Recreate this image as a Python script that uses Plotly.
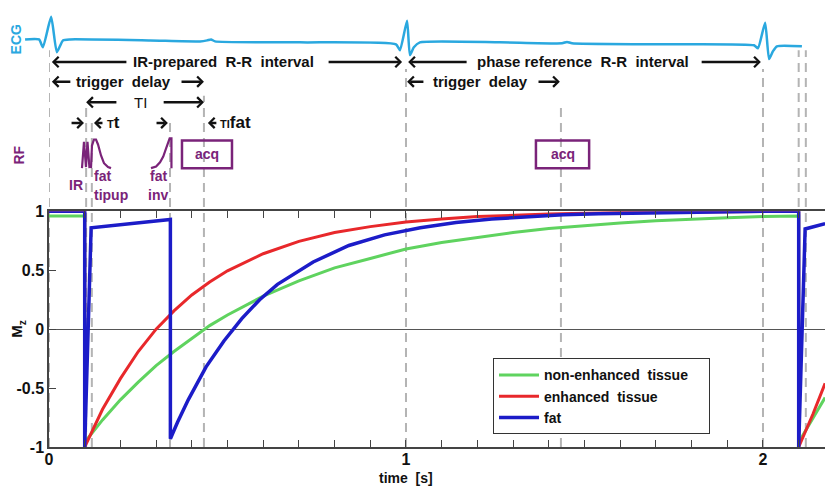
import plotly.graph_objects as go

# ---------------- data ----------------
# longitudinal magnetisation Mz vs time [s]
t_green = [0, 0.1, 0.1, 0.12, 0.15, 0.2, 0.25, 0.3, 0.35, 0.4, 0.45, 0.5, 0.6, 0.7, 0.8, 0.9,
           1.0, 1.1, 1.2, 1.3, 1.4, 1.5, 1.6, 1.7, 1.8, 1.9, 2.0, 2.1, 2.1, 2.14, 2.174]
mz_green = [0.96, 0.96, -0.96, -0.88, -0.77, -0.60, -0.45, -0.31, -0.19, -0.08, 0.03, 0.12, 0.28,
            0.41, 0.52, 0.60, 0.68, 0.735, 0.78, 0.82, 0.855, 0.88, 0.90, 0.92, 0.935, 0.945,
            0.955, 0.96, -0.96, -0.76, -0.58]

t_red = [0, 0.1, 0.1, 0.12, 0.15, 0.2, 0.25, 0.3, 0.35, 0.4, 0.45, 0.5, 0.6, 0.7, 0.8, 0.9,
         1.0, 1.1, 1.2, 1.4, 1.6, 1.8, 2.0, 2.1, 2.1, 2.14, 2.174]
mz_red = [1.0, 1.0, -1.0, -0.87, -0.68, -0.42, -0.19, 0.0, 0.155, 0.29, 0.40, 0.495, 0.64, 0.745,
          0.82, 0.87, 0.91, 0.935, 0.955, 0.977, 0.99, 0.995, 1.0, 1.0, -1.0, -0.72, -0.46]

t_blue = [0, 0.1, 0.1, 0.118, 0.34, 0.34, 0.36, 0.39, 0.44, 0.49, 0.54, 0.59, 0.64, 0.74, 0.84,
          0.94, 1.04, 1.14, 1.24, 1.34, 1.44, 1.54, 1.74, 2.0, 2.1, 2.1, 2.118, 2.174]
mz_blue = [1.0, 1.0, -1.0, 0.86, 0.93, -0.93, -0.79, -0.60, -0.32, -0.10, 0.09, 0.25, 0.38, 0.57,
           0.71, 0.80, 0.86, 0.905, 0.935, 0.955, 0.97, 0.98, 0.99, 1.0, 1.0, -1.0, 0.85, 0.895]

series_names = ["non-enhanced\u00a0 tissue\u00a0\u00a0\u00a0\u00a0", "enhanced\u00a0 tissue", "fat"]

# ECG trace (time [s], arbitrary amplitude)
t_ecg = [-0.067, -0.028, -0.017, 0.006, 0.022, 0.039, 0.059, 0.283, 0.423, 0.443, 0.454, 0.465,
         0.703, 0.972, 0.983, 1.003, 1.011, 1.022, 1.039, 1.263, 1.437, 1.451, 1.465, 1.683,
         1.975, 1.986, 2.006, 2.017, 2.028, 2.039, 2.109]
v_ecg = [0.08, 0.08, -0.24, 1.0, -0.44, 0.04, 0.08, 0.04, 0.0, 0.04, 0.08, 0.0,
         -0.04, -0.12, -0.36, 0.84, -0.56, -0.24, -0.04, -0.04, -0.08, -0.02, -0.08, -0.12,
         -0.16, -0.28, 0.76, -0.72, -0.40, -0.20, -0.20]

# RF pulses (time [s], relative amplitude)
t_rf_ir = [0.0924, 0.098, 0.1036, 0.1078, 0.1134]
v_rf_ir = [0, 0.96, 0.04, 0.96, 0]
t_rf_tipup = [0.1176, 0.1204, 0.126, 0.1317, 0.1373, 0.1457, 0.154, 0.1653, 0.1737]
v_rf_tipup = [0, 0.82, 1.04, 1.04, 0.86, 0.46, 0.18, 0.04, 0]
t_rf_inv = [0.2857, 0.300, 0.311, 0.320, 0.327, 0.333, 0.338, 0.343, 0.343]
v_rf_inv = [0, 0.06, 0.21, 0.42, 0.68, 0.93, 1.08, 1.08, 0]

# acquisition windows (start, end) [s]
acq_windows = [(0.3725, 0.5126), (1.364, 1.513)]

# timing events (dashed markers) [s] and the paper height where each starts
event_times = [0.0, 0.104, 0.12, 0.339, 0.434, 1.0, 1.434, 2.0, 2.1, 2.12]
event_tops = [0.904, 0.776, 0.747, 0.747, 0.800, 0.861, 0.779, 0.861, 0.904, 0.904]

y_tick_vals = [-1, -0.5, 0, 0.5, 1]
y_tick_text = ["-1", "-0.5", "0", "0.5", "1"]
x_tick_vals = [round(i * 0.1, 1) for i in range(22)]
x_tick_text = [str(int(v)) if abs(v - round(v)) < 1e-9 else "" for v in x_tick_vals]

# ---------------- styling ----------------
FONT = "Liberation Sans, Arial, sans-serif"
GREEN = "#5fd35f"
RED = "#e8282b"
BLUE = "#1c1cc8"
CYAN = "#2aa8df"
PURPLE = "#7a2379"
AX = "#444444"
DASH = "#b4b4b4"

fig = go.Figure()

fig.add_trace(go.Scatter(x=t_green, y=mz_green, mode="lines", name=series_names[0],
                         line=dict(color=GREEN, width=3)))
fig.add_trace(go.Scatter(x=t_red, y=mz_red, mode="lines", name=series_names[1],
                         line=dict(color=RED, width=3)))
fig.add_trace(go.Scatter(x=t_blue, y=mz_blue, mode="lines", name=series_names[2],
                         line=dict(color=BLUE, width=3.5)))

fig.add_trace(go.Scatter(x=t_ecg, y=v_ecg, mode="lines", xaxis="x2", yaxis="y2",
                         line=dict(color=CYAN, width=2.5, shape="spline", smoothing=0.5),
                         showlegend=False, hoverinfo="skip"))
for tx, vy in [(t_rf_ir, v_rf_ir), (t_rf_tipup, v_rf_tipup), (t_rf_inv, v_rf_inv)]:
    fig.add_trace(go.Scatter(x=tx, y=vy, mode="lines", xaxis="x2", yaxis="y3",
                             line=dict(color=PURPLE, width=2.2), showlegend=False,
                             hoverinfo="skip"))

shapes = []
for tt, top in zip(event_times, event_tops):
    shapes.append(dict(type="line", xref="x", yref="paper", x0=tt, x1=tt, y0=0, y1=top,
                       line=dict(color=DASH, width=2, dash="9px,6px"), layer="below"))
for a0, a1 in acq_windows:
    shapes.append(dict(type="rect", xref="x2", yref="y3", x0=a0, x1=a1, y0=0, y1=1,
                       line=dict(color=PURPLE, width=2.5)))

ann = []


def arrow(head, tail, y):
    ann.append(dict(x=head, y=y, xref="x", yref="paper", ax=tail, ay=0, axref="x",
                    ayref="pixel", text="", showarrow=True, arrowhead=4, arrowsize=0.8,
                    arrowwidth=2.5, arrowcolor="#111111", standoff=0, startstandoff=0))


def label(x, y, text, size=15, color="#111111", xref="x", xanchor="center", weight="bold",
          angle=0):
    ann.append(dict(x=x, y=y, xref=xref, yref="paper", text=text, showarrow=False,
                    xanchor=xanchor, yanchor="middle", textangle=angle,
                    font=dict(family=FONT, size=size, color=color, weight=weight)))


R1, R2, R3, R4 = 0.877, 0.8322, 0.7852, 0.7383
# row 1
arrow(0.008, 0.221, R1); arrow(0.989, 0.779, R1)
label(0.49, R1, "IR-prepared\u00a0 R-R\u00a0 interval")
arrow(1.006, 1.174, R1); arrow(1.994, 1.824, R1)
label(1.496, R1, "phase reference\u00a0 R-R\u00a0 interval")
# row 2
arrow(0.008, 0.064, R2); arrow(0.434, 0.367, R2)
label(0.21, R2, "trigger\u00a0 delay")
arrow(1.003, 1.053, R2); arrow(1.431, 1.367, R2)
label(1.21, R2, "trigger\u00a0 delay")
# row 3
arrow(0.104, 0.193, R3); arrow(0.434, 0.317, R3)
label(0.255, R3, "TI", size=15, weight="normal")
# row 4
arrow(0.098, 0.059, R4)
arrow(0.126, 0.154, R4)
label(0.156, R4, '<span style="font-size:11px">T</span>t', size=17, xanchor="left")
arrow(0.333, 0.297, R4)
arrow(0.445, 0.473, R4)
label(0.472, R4, '<span style="font-size:11px">TI</span>fat', size=17, xanchor="left")

# RF labels
label(0.0756, 0.5973, "IR", size=14, color=PURPLE)
label(0.1204, 0.6174, "fat", size=14, color=PURPLE, xanchor="left")
label(0.1204, 0.5749, "tipup", size=14, color=PURPLE, xanchor="left")
label(0.308, 0.6174, "fat", size=14, color=PURPLE)
label(0.3053, 0.5749, "inv", size=14, color=PURPLE)
for a0, a1 in acq_windows:
    label((a0 + a1) / 2, 0.6667, "acq", size=14, color=PURPLE)

label(-0.005, 0.9284, "ECG", size=14, color=CYAN, xref="paper", angle=-90)
label(-0.001, 0.6644, "RF", size=14, color=PURPLE, xref="paper", angle=-90)
label(-0.003, 0.2685, "M<sub>z</sub>", size=15, xref="paper", angle=-90)
label(1.0, -0.0705, "time\u00a0 [s]", size=14)

fig.update_layout(
    width=825, height=486, autosize=False,
    margin=dict(l=20, r=0, t=0, b=39),
    paper_bgcolor="white", plot_bgcolor="rgba(0,0,0,0)",
    font=dict(family=FONT, color="#111111"),
    shapes=shapes, annotations=ann,
    showlegend=True,
    legend=dict(x=0.5876, y=0.1152, xanchor="left", yanchor="middle",
                bgcolor="white", bordercolor="#333333", borderwidth=1,
                font=dict(family=FONT, size=14, color="#111111", weight="bold"),
                tracegroupgap=0, itemwidth=40),
    xaxis=dict(domain=[0.036025, 1], range=[0, 2.1737], anchor="y",
               showline=True, linecolor=AX, linewidth=1.5, mirror="ticks",
               ticks="inside", ticklen=7, tickwidth=1.2, tickcolor=AX,
               tickvals=x_tick_vals, ticktext=x_tick_text, ticklabelstandoff=-3,
               tickfont=dict(family=FONT, size=16, color="#111111", weight="bold"),
               showgrid=False, zeroline=False),
    yaxis=dict(domain=[0, 0.53691], range=[-1, 1], anchor="x",
               showline=True, linecolor=AX, linewidth=1.5,
               ticks="inside", ticklen=7, tickwidth=1.2, tickcolor=AX,
               tickvals=y_tick_vals, ticktext=y_tick_text,
               tickfont=dict(family=FONT, size=16, color="#111111", weight="bold"),
               showgrid=False, zeroline=True, zerolinecolor="#555555", zerolinewidth=1.2),
    xaxis2=dict(domain=[0, 1], range=[-0.08123, 2.1737], anchor="y2", visible=False),
    yaxis2=dict(domain=[0.8770, 0.9888], range=[-0.84, 1.16], anchor="x2", visible=False),
    yaxis3=dict(domain=[0.6264, 0.7092], range=[-0.14, 1.18], anchor="x2", visible=False),
)

fig.write_html("out.html", config={"displayModeBar": False},
               post_script="document.body.style.margin='0';document.body.style.overflow='hidden';")
